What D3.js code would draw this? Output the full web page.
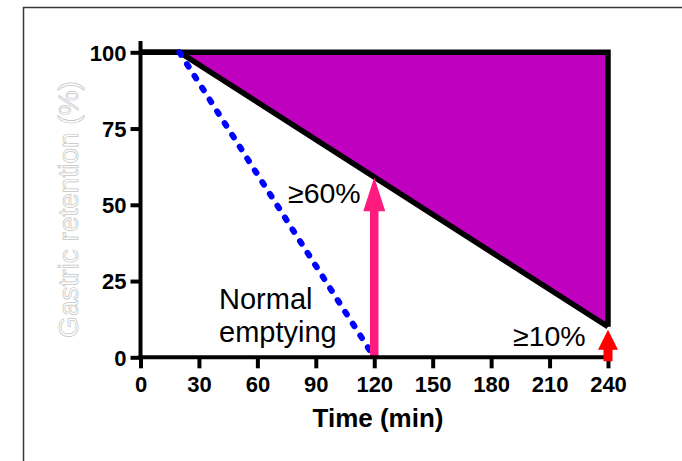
<!DOCTYPE html>
<html>
<head>
<meta charset="utf-8">
<script src="https://cdn.jsdelivr.net/npm/d3@7"></script>
<style>
  html, body { margin: 0; padding: 0; background: #fff; }
  svg { display: block; }
</style>
</head>
<body>
<svg id="chart" width="682" height="461"></svg>
<script>
// ---- data ----
const timeTicks = [0, 30, 60, 90, 120, 150, 180, 210, 240];
const retentionTicks = [0, 25, 50, 75, 100];
const delayedTime = [0, 20, 240];
const delayedRetention = [100, 100, 10];
const envelopeTime = [20, 240, 240];
const envelopeRetention = [100, 100, 10];
const normalTime = [20, 120];
const normalRetention = [100, 0];
const arrowTime = [120, 240];
const arrowTip = [59, 9];
const arrowBase = [0, -1.3];
const arrowLabels = ["≥60%", "≥10%"];
const normalLabel = ["Normal", "emptying"];

// ---- setup ----
const svg = d3.select("#chart");
const x = d3.scaleLinear().domain([0, 240]).range([140.5, 608]);
const y = d3.scaleLinear().domain([0, 100]).range([357.3, 52.3]);
const fontFam = "'Liberation Sans', Arial, sans-serif";

// outer frame
svg.append("rect").attr("x", 23.5).attr("y", 7.5).attr("width", 700).attr("height", 500)
  .attr("fill", "none").attr("stroke", "#3a3a3a").attr("stroke-width", 1.5);

// envelope fill
const envPts = envelopeTime.map((t, i) => [x(t), y(envelopeRetention[i])]);
svg.append("path").attr("d", d3.line()(envPts) + "Z")
  .attr("fill", "#BF00BF").attr("stroke", "none");

// top and right boundary
svg.append("path")
  .attr("d", d3.line()([[x(0), y(100)], [x(240), y(100)], [x(240), y(10)]]))
  .attr("fill", "none").attr("stroke", "#000").attr("stroke-width", 5.5)
  .attr("stroke-linejoin", "miter");

// delayed emptying line
const delPts = delayedTime.map((t, i) => [x(t), y(delayedRetention[i])]);
svg.append("path").attr("d", d3.line()(delPts))
  .attr("fill", "none").attr("stroke", "#000").attr("stroke-width", 5.5)
  .attr("stroke-linejoin", "miter");

// normal emptying dotted line
const normPts = normalTime.map((t, i) => [x(t), y(normalRetention[i])]);
svg.append("path").attr("d", d3.line()(normPts))
  .attr("fill", "none").attr("stroke", "#0000FF").attr("stroke-width", 6)
  .attr("stroke-linecap", "round").attr("stroke-dasharray", "3,11");

// arrow builder
function arrow(i, color, shaftW, headW, headL) {
  const cx = x(arrowTime[i]);
  const tip = y(arrowTip[i]);
  const base = y(arrowBase[i]);
  const hb = tip + headL;
  const pts = [
    [cx - shaftW / 2, base], [cx - shaftW / 2, hb], [cx - headW / 2, hb],
    [cx, tip], [cx + headW / 2, hb], [cx + shaftW / 2, hb], [cx + shaftW / 2, base]
  ];
  svg.append("path").attr("d", d3.line()(pts) + "Z").attr("fill", color);
}

arrow(0, "#FF1A7F", 8.5, 22, 34);

// axes
const axisG = svg.append("g");
axisG.append("line").attr("x1", x(0)).attr("x2", x(0))
  .attr("y1", y(0) + 2).attr("y2", y(103.7))
  .attr("stroke", "#000").attr("stroke-width", 4);
axisG.append("line").attr("x1", x(0) - 2).attr("x2", x(240) + 2)
  .attr("y1", y(0)).attr("y2", y(0))
  .attr("stroke", "#000").attr("stroke-width", 4);

const yAxis = d3.axisLeft(y).tickValues(retentionTicks).tickSize(10).tickPadding(4);
const gy = svg.append("g").attr("transform", `translate(${x(0)},0)`).call(yAxis);
gy.select(".domain").remove();
gy.selectAll(".tick line").attr("stroke", "#000").attr("stroke-width", 4);
gy.selectAll(".tick text").attr("fill", "#000")
  .style("font-family", fontFam)
  .style("font-weight", "bold").style("font-size", "22px").attr("dy", "0.36em");

const xAxis = d3.axisBottom(x).tickValues(timeTicks).tickSize(11).tickPadding(8);
const gx = svg.append("g").attr("transform", `translate(0,${y(0)})`).call(xAxis);
gx.select(".domain").remove();
gx.selectAll(".tick line").attr("stroke", "#000").attr("stroke-width", 4);
gx.selectAll(".tick text").attr("fill", "#000")
  .style("font-family", fontFam)
  .style("font-weight", "bold").style("font-size", "22px");

arrow(1, "#FF0000", 9, 20, 20);

// axis titles
svg.append("text").attr("x", 378).attr("y", 427).attr("text-anchor", "middle")
  .style("font-family", fontFam)
  .style("font-weight", "bold").style("font-size", "26px").text("Time (min)");

svg.append("text").attr("transform", "translate(78,209.5) rotate(-90)")
  .attr("text-anchor", "middle")
  .style("font-family", fontFam)
  .style("font-size", "28px")
  .attr("fill", "#fff").attr("stroke", "#c4c4c4").attr("stroke-width", 0.7)
  .text("Gastric retention (%)");

// annotations
svg.append("text").attr("x", 288).attr("y", 203)
  .style("font-family", fontFam).style("font-size", "28.5px").text(arrowLabels[0]);
svg.append("text").attr("x", 513).attr("y", 346)
  .style("font-family", fontFam).style("font-size", "28.5px").text(arrowLabels[1]);
svg.append("text").attr("x", 219).attr("y", 309)
  .style("font-family", fontFam).style("font-size", "29px").text(normalLabel[0]);
svg.append("text").attr("x", 219).attr("y", 342)
  .style("font-family", fontFam).style("font-size", "29px").text(normalLabel[1]);
</script>
</body>
</html>
